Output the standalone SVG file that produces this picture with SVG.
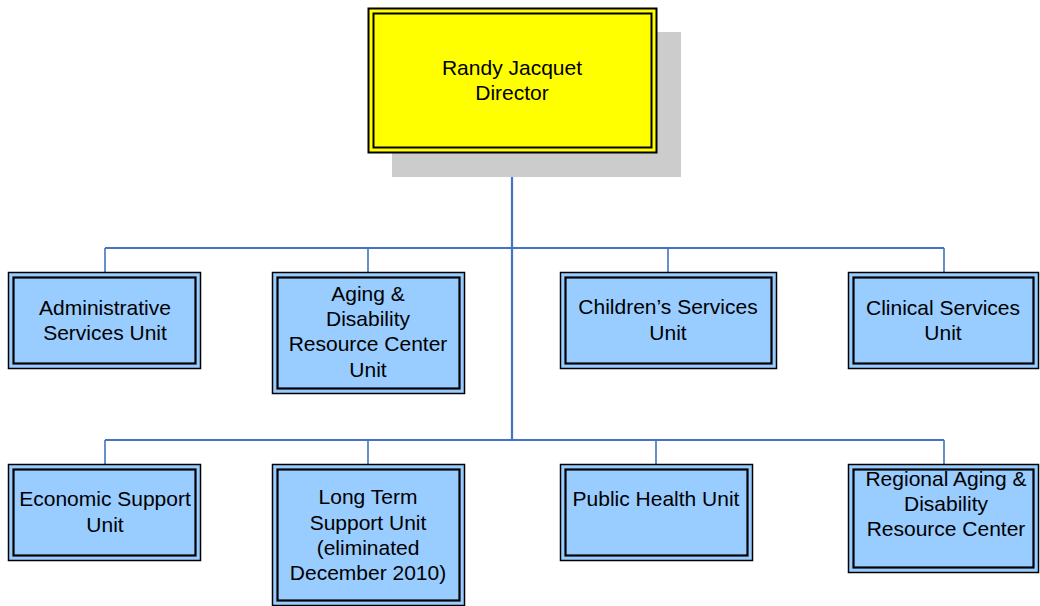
<svg xmlns="http://www.w3.org/2000/svg" width="1040" height="606" viewBox="0 0 1040 606">
<style>
.outer{fill:#99CCFF;stroke:#000;stroke-width:1.5}
.inner{fill:none;stroke:#000;stroke-width:2.2}
.t{font-family:"Liberation Sans",Arial,sans-serif;font-size:21px;fill:#000;text-anchor:middle}
.c{stroke:#4472C4;fill:none}
</style>
<rect width="1040" height="606" fill="#fff"/>
<g id="connectors">
<path class="c" stroke-width="2.2" d="M512 153V441"/>
<path class="c" stroke-width="2" d="M105 248H944M105 440H944"/>
<path class="c" stroke-width="1.6" d="M105 248V272M368 248V272M668 248V272M944 248V272M105 440V464M368 440V464M656 440V464M944 440V464"/>
</g>
<g id="director">
<rect x="392" y="32" width="289" height="145" fill="#CCCCCC"/>
<rect x="368.5" y="8.5" width="288" height="144" fill="#FFFF00" stroke="#000" stroke-width="2"/>
<rect x="373.5" y="13.5" width="278" height="134" fill="none" stroke="#000" stroke-width="2"/>
<text class="t" x="512" y="75">Randy Jacquet</text>
<text class="t" x="512" y="100">Director</text>
</g>
<g id="admin">
<rect class="outer" x="8.5" y="272.5" width="192" height="96"/>
<rect class="inner" x="13.5" y="277.5" width="182" height="86"/>
<text class="t" x="105" y="315">Administrative</text>
<text class="t" x="105" y="340">Services Unit</text>
</g>
<g id="aging">
<rect class="outer" x="272.5" y="272.5" width="192" height="121"/>
<rect class="inner" x="277.5" y="277.5" width="182" height="111"/>
<text class="t" x="368" y="301">Aging &amp;</text>
<text class="t" x="368" y="326">Disability</text>
<text class="t" x="368" y="351">Resource Center</text>
<text class="t" x="368" y="377">Unit</text>
</g>
<g id="children">
<rect class="outer" x="560.5" y="272.5" width="216" height="96"/>
<rect class="inner" x="565.5" y="277.5" width="206" height="86"/>
<text class="t" x="668" y="314">Children’s Services</text>
<text class="t" x="668" y="340">Unit</text>
</g>
<g id="clinical">
<rect class="outer" x="848.5" y="272.5" width="190" height="96"/>
<rect class="inner" x="853.5" y="277.5" width="180" height="86"/>
<text class="t" x="943" y="315">Clinical Services</text>
<text class="t" x="943" y="340">Unit</text>
</g>
<g id="economic">
<rect class="outer" x="8.5" y="464.5" width="192" height="96"/>
<rect class="inner" x="13.5" y="469.5" width="182" height="86"/>
<text class="t" x="105" y="506">Economic Support</text>
<text class="t" x="105" y="532">Unit</text>
</g>
<g id="longterm">
<rect class="outer" x="272.5" y="464.5" width="192" height="141"/>
<rect class="inner" x="277.5" y="469.5" width="182" height="131"/>
<text class="t" x="368" y="504">Long Term</text>
<text class="t" x="368" y="530">Support Unit</text>
<text class="t" x="368" y="555">(eliminated</text>
<text class="t" x="368" y="580">December 2010)</text>
</g>
<g id="publichealth">
<rect class="outer" x="560.5" y="464.5" width="192" height="96"/>
<rect class="inner" x="565.5" y="469.5" width="182" height="86"/>
<text class="t" x="656" y="506">Public Health Unit</text>
</g>
<g id="regional">
<rect class="outer" x="848.5" y="464.5" width="190" height="108"/>
<rect class="inner" x="853.5" y="469.5" width="180" height="98"/>
<text class="t" x="946" y="486">Regional Aging &amp;</text>
<text class="t" x="946" y="511">Disability</text>
<text class="t" x="946" y="536">Resource Center</text>
</g>
</svg>
